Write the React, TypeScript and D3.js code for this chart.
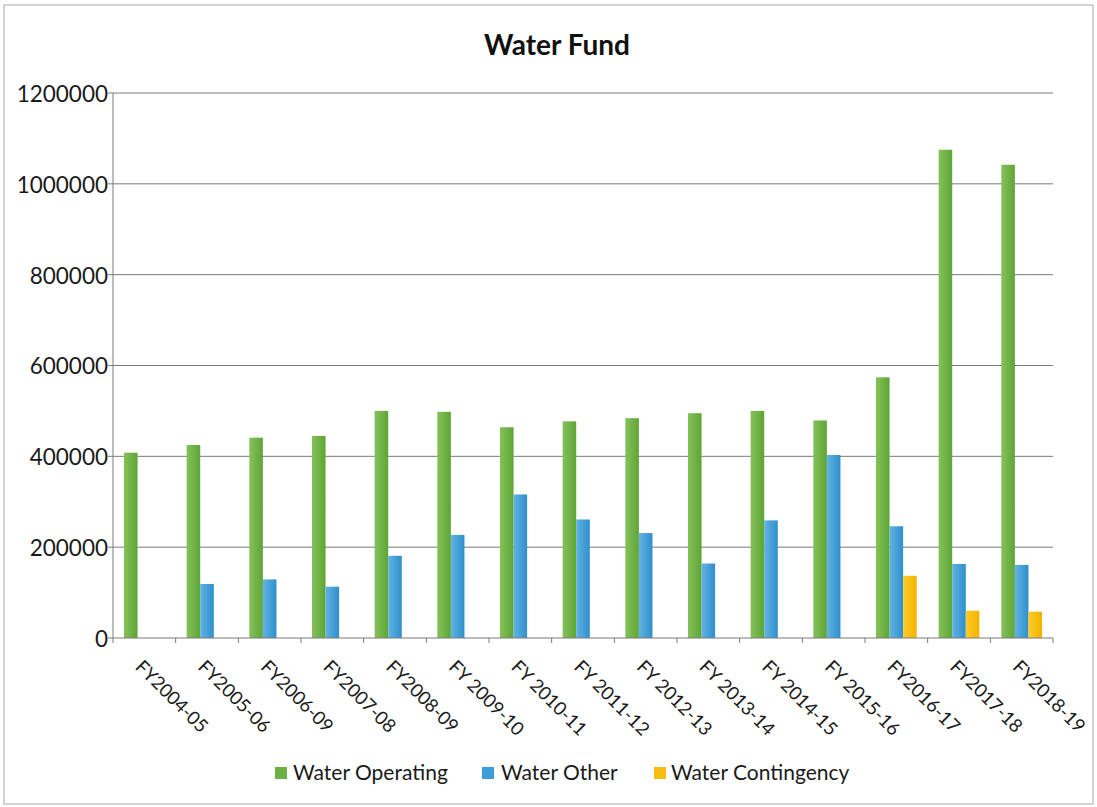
import React from "react";
import * as d3 from "d3";

const categories = [
  "FY2004-05", "FY2005-06", "FY2006-09", "FY2007-08", "FY2008-09",
  "FY 2009-10", "FY 2010-11", "FY 2011-12", "FY 2012-13", "FY 2013-14",
  "FY 2014-15", "FY 2015-16", "FY2016-17", "FY2017-18", "FY2018-19",
];
const waterOperating = [
  408000, 425000, 441000, 445000, 500000, 498000, 464000, 477000, 484000,
  495000, 500000, 479000, 574000, 1075000, 1042000,
];
const waterOther = [
  0, 119000, 129000, 113000, 181000, 227000, 316000, 261000, 231000,
  164000, 259000, 403000, 246000, 163000, 161000,
];
const waterContingency = [
  0, 0, 0, 0, 0, 0, 0, 0, 0, 0, 0, 0, 137000, 60000, 58000,
];
const seriesNames = ["Water Operating", "Water Other", "Water Contingency"];
const yTicks = [0, 200000, 400000, 600000, 800000, 1000000, 1200000];

const W = 1097;
const H = 807;
const plot = { left: 113, right: 1053, top: 93, bottom: 638 };
const FONT = "Lato, 'Open Sans', sans-serif";

const colors = [
  { id: "gOp", a: "#86c15c", b: "#5ea535" },
  { id: "gOt", a: "#62b3e4", b: "#2f8fcc" },
  { id: "gCo", a: "#ffcb2a", b: "#f2b300" },
];
const legendSwatch = ["#6cb043", "#3c9dd8", "#f7bd12"];

export default function App() {
  const series = [waterOperating, waterOther, waterContingency];
  const x = d3.scaleBand<string>().domain(categories).range([plot.left, plot.right]).paddingInner(0).paddingOuter(0);
  const groupPad = 0.35;
  const inner = d3
    .scaleBand<number>()
    .domain([0, 1, 2])
    .range([x.bandwidth() * groupPad / 2, x.bandwidth() * (1 - groupPad / 2)]);
  const y = d3.scaleLinear().domain([0, 1200000]).range([plot.bottom, plot.top]);

  const legendItems = [
    { sx: 275, tx: 293 },
    { sx: 482, tx: 501 },
    { sx: 654, tx: 671 },
  ];

  return (
    <svg
      width={W}
      height={H}
      style={{ position: "absolute", left: 0, top: 0, background: "#fff" }}
      fontFamily={FONT}
    >
      <defs>
        {colors.map((c) => (
          <linearGradient key={c.id} id={c.id} x1="0" x2="1" y1="0" y2="0">
            <stop offset="0%" stopColor={c.a} />
            <stop offset="100%" stopColor={c.b} />
          </linearGradient>
        ))}
      </defs>
      <rect x={4} y={5} width={1089} height={799} fill="#fff" stroke="#a8a8a8" strokeWidth={1} />
      <text x={557} y={55} textAnchor="middle" fontSize={28} fontWeight="bold" fill="#111">
        Water Fund
      </text>

      {/* gridlines */}
      {yTicks.map((t) => (
        <g key={t}>
          {t > 0 && (
            <line x1={plot.left} x2={plot.right} y1={y(t)} y2={y(t)} stroke="#7a7a7a" strokeWidth={1} />
          )}
          <line x1={plot.left - 5} x2={plot.left} y1={y(t)} y2={y(t)} stroke="#7a7a7a" />
          <text x={108} y={y(t) + 1} dy="0.35em" textAnchor="end" fontSize={22.5} fill="#1a1a1a">
            {t}
          </text>
        </g>
      ))}

      {/* bars */}
      {series.map((vals, si) =>
        vals.map((v, i) =>
          v > 0 ? (
            <rect
              key={`${si}-${i}`}
              x={(x(categories[i]) as number) + (inner(si) as number)}
              y={y(v)}
              width={inner.bandwidth()}
              height={y(0) - y(v)}
              fill={`url(#${colors[si].id})`}
            />
          ) : null
        )
      )}

      {/* axes */}
      <line x1={plot.left} x2={plot.left} y1={plot.top} y2={plot.bottom} stroke="#7a7a7a" />
      <line x1={plot.left} x2={plot.right} y1={plot.bottom} y2={plot.bottom} stroke="#7a7a7a" />
      {categories.map((c) => (
        <line
          key={c}
          x1={(x(c) as number)}
          x2={(x(c) as number)}
          y1={plot.bottom}
          y2={plot.bottom + 5}
          stroke="#7a7a7a"
        />
      ))}
      <line x1={plot.right} x2={plot.right} y1={plot.bottom} y2={plot.bottom + 5} stroke="#7a7a7a" />

      {categories.map((c) => {
        const cx = (x(c) as number) + x.bandwidth() / 2 - 10;
        const cy = 668;
        return (
          <text
            key={c}
            x={cx}
            y={cy}
            transform={`rotate(45 ${cx} ${cy})`}
            fontSize={18.5}
            fill="#1a1a1a"
          >
            {c}
          </text>
        );
      })}

      {/* legend */}
      {seriesNames.map((n, i) => (
        <g key={n}>
          <rect x={legendItems[i].sx} y={767} width={12} height={12} fill={legendSwatch[i]} />
          <text x={legendItems[i].tx} y={773} dy="0.35em" fontSize={21} fill="#1a1a1a">
            {n}
          </text>
        </g>
      ))}
    </svg>
  );
}
